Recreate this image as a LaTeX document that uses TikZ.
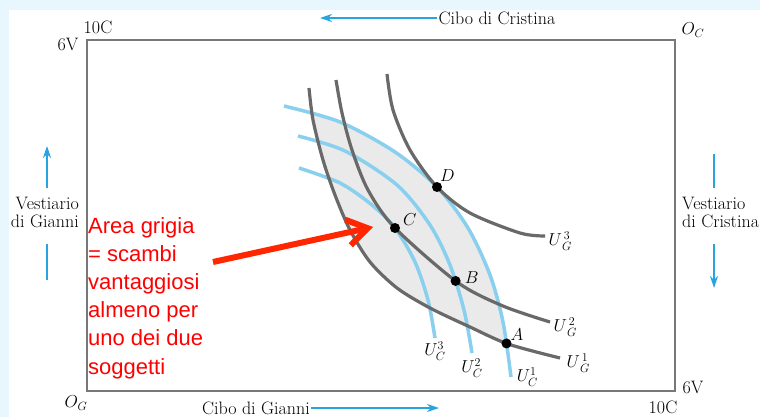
\documentclass[tikz,border=0pt]{standalone}
\usepackage{fontspec}
\newfontfamily\redsans{Liberation Sans}
\usepackage{pgfplots}
\pgfplotsset{compat=1.18}
\usepgfplotslibrary{fillbetween}
\usetikzlibrary{arrows.meta, positioning, intersections}

\definecolor{bgblue}{RGB}{232,247,253}
\definecolor{boxgray}{RGB}{120,120,120}
\definecolor{ugray}{RGB}{105,105,105}
\definecolor{ucblue}{RGB}{137,207,238}
\definecolor{axisblue}{RGB}{40,165,225}
\definecolor{lensgray}{RGB}{234,234,234}
\definecolor{arrowred}{RGB}{255,38,0}
\definecolor{textred}{RGB}{255,0,0}

\pgfdeclarelayer{back}
\pgfsetlayers{back,main}

\begin{document}
\begin{tikzpicture}[x=1pt, y=-1pt,
    lab/.style={font=\fontsize{18}{17.5}\selectfont, inner sep=1pt},
    ptlab/.style={font=\fontsize{16}{17}\selectfont, inner sep=0pt},
    axisline/.style={draw=axisblue, line width=1.3pt},
    axisarrow/.style={axisline, -{Stealth[length=12pt, width=8pt]}},
    ugcurve/.style={draw=ugray, line width=3.2pt},
    uccurve/.style={draw=ucblue, line width=3.5pt},
    dot/.style={circle, fill=black, inner sep=0pt, minimum size=10pt}]

    \begin{pgfonlayer}{back}
        \fill[bgblue] (0,0) rectangle (760,417);
        \fill[white] (9,10) rectangle (760,417);
    \end{pgfonlayer}
    \useasboundingbox (0,0) rectangle (760,417);

    % Edgeworth box
    \coordinate (tl) at (87,40);
    \coordinate (br) at (675,391);
    \draw[boxgray, line width=1.5pt] (tl) rectangle (br);

    % tangency points
    \coordinate (C) at (395,228);
    \coordinate (D) at (437,187);

    % Cristina's curves
    \draw[uccurve, name path=b1] plot[smooth] coordinates {(284,106) (340,122) (395,152) (D) (468,228) (490,275) (503,322) (511,377)}
        node (uc1) [lab, anchor=west, xshift=3pt] {$U_C^1$};
    \draw[uccurve, name path=b2] plot[smooth] coordinates {(298,136) (345,151) (397,185) (430,225) (450,265) (464,310) (472,353)}
        node (uc2) [lab, anchor=north, yshift=-3pt] {$U_C^2$};
    \draw[uccurve, name path=b3] plot[smooth] coordinates {(299,168) (340,183) (372,205) (C) (415,262) (428,300) (435,338)}
        node (uc3) [lab, anchor=north, yshift=-1pt] {$U_C^3$};

    % Gianni's curves
    \draw[ugcurve, name path=g1] plot[smooth] coordinates {(309,88) (313,120) (323,160) (335,195) (350,230) (370,262) (397,288) (430,308) (470,327) (508,344) (560,358)}
        node (ug1) [lab, anchor=west, xshift=4pt, yshift=-5pt] {$U_{\,G}^{\,1}$};
    \draw[ugcurve, name path=g2] plot[smooth] coordinates {(336,80) (342,113) (352,150) (368,190) (C) (457,282) (503,306) (550,322)}
        node (ug2) [lab, anchor=west, xshift=1pt, yshift=-5pt] {$U_{\,G}^{\,2}$};
    \draw[ugcurve, name path=g3] plot[smooth] coordinates {(387,74) (393,110) (410,150) (D) (470,213) (520,233) (545,236)}
        node (ug3) [lab, anchor=west, xshift=1pt, yshift=-5pt] {$U_{\,G}^{\,3}$};

    % grey area
    \begin{pgfonlayer}{back}
        \fill[lensgray, intersection segments={of=g1 and b1, sequence={L2 -- R2[reverse]}}];
    \end{pgfonlayer}

    % allocations
    \path[name intersections={of=g1 and b1, sort by=g1, by={top1,A}}];
    \path[name intersections={of=g2 and b2, sort by=g2, by={top2,B}}];
    \node[dot] (dA) at (A) {};
    \node[dot] (dB) at (B) {};
    \node[dot] (dC) at (C) {};
    \node[dot] (dD) at (D) {};
    \node[ptlab, above right=3pt and 4pt of A] (lA) {$A$};
    \node[ptlab, right=9pt of B, yshift=3pt] (lB) {$B$};
    \node[ptlab, above right=2pt and 8pt of C] (lC) {$C$};
    \node[ptlab, above right=5pt and 3pt of D] (lD) {$D$};

    % axes labels
    \node[lab] (tl10) at (98,27) {10C};
    \node[lab] (tl6) at (68,44) {6V};
    \node[lab] (oc) at (693,30) {$O_C$};
    \node[lab] (og) at (76,403) {$O_G$};
    \node[lab] (br6) at (693,387) {6V};
    \node[lab] (br10) at (663,407) {10C};

    \node[lab] (cc) at (497,18) {Cibo di Cristina};
    \coordinate (cctip) at (320,19);
    \draw[axisarrow] (cc.west) -- (cc.west -| cctip);

    \node[lab] (cg) at (256,408) {Cibo di Gianni};
    \coordinate (cgtip) at (439,411);
    \draw[axisarrow] (cg.east) -- (cg.east -| cgtip);

    \node[lab, align=right, anchor=east] (vg) at (80,212.5) {Vestiario\\di Gianni};
    \coordinate (vgtip) at (47,146);
    \coordinate (vgtail) at (47,280);
    \draw[axisarrow] (vg.north -| vgtip) ++(0,-8) -- (vgtip);
    \draw[axisline] (vg.south -| vgtail) ++(0,15) -- (vgtail);

    \node[lab, align=left, anchor=west] (vc) at (681,212.5) {Vestiario\\di Cristina};
    \coordinate (vctip) at (714,288);
    \coordinate (vctail) at (714,154);
    \draw[axisline] (vc.north -| vctail) ++(0,-8) -- (vctail);
    \draw[axisarrow] (vc.south -| vctip) ++(0,15) -- (vctip);

    % red comment
    \node[anchor=north west, align=left, inner sep=0pt, text=textred,
          font=\redsans\fontsize{22}{28.2}\selectfont] (area) at (88,217)
          {Area grigia\\= scambi\\vantaggiosi\\almeno per\\uno dei due\\soggetti};
    \coordinate (rstart) at (213,262);
    \coordinate (rtip) at (373,227);
    \draw[arrowred, line width=6pt, -{Straight Barb[length=20pt, width=26pt]}] (rstart) -- (rtip);
\end{tikzpicture}
\end{document}
